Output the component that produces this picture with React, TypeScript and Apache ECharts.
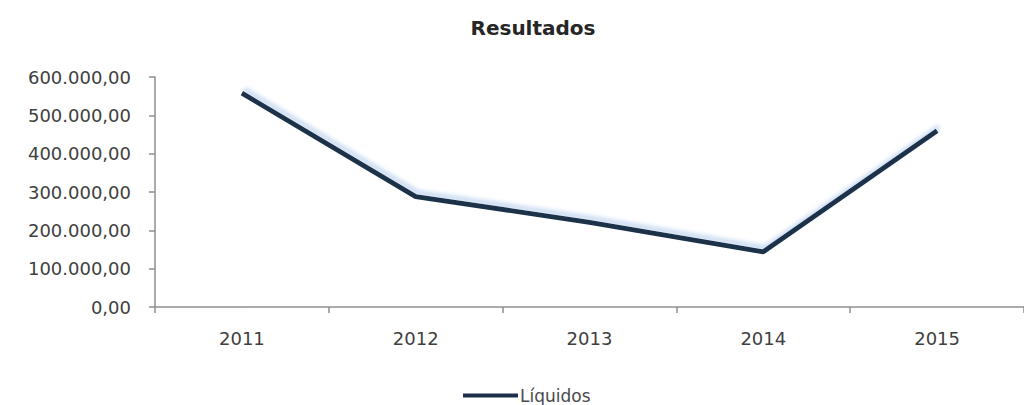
import React, { useEffect, useRef } from "react";
import * as echarts from "echarts";

// Years on the category axis
const years = ["2011", "2012", "2013", "2014", "2015"];
// Net results per year
const liquidos = [558000, 288000, 221000, 144000, 460000];
// Value axis range
const yMin = 0;
const yMax = 600000;
const yStep = 100000;

const seriesName = "Líquidos";
const chartTitle = "Resultados";

// pt-BR style number formatting: 600.000,00
function formatBR(v: number): string {
  const [intPart, dec] = v.toFixed(2).split(".");
  const withDots = intPart.replace(/\B(?=(\d{3})+(?!\d))/g, ".");
  return `${withDots},${dec}`;
}

const FONT = "DejaVu Sans";

export default function App() {
  const ref = useRef<HTMLDivElement>(null);

  useEffect(() => {
    if (!ref.current) return;
    const chart = echarts.init(ref.current, null, { renderer: "svg" });
    chart.setOption({
      animation: false,
      backgroundColor: "#ffffff",
      title: {
        text: chartTitle,
        left: 528,
        textAlign: "center",
        top: 13,
        textStyle: {
          fontFamily: FONT,
          fontSize: 20,
          fontWeight: "bold",
          color: "#262626",
        },
      },
      legend: {
        left: 458,
        top: 381,
        icon: "rect",
        itemWidth: 55,
        itemHeight: 4,
        itemGap: 4,
        data: [{ name: seriesName, icon: "rect" }],
        textStyle: {
          fontFamily: FONT,
          fontSize: 17,
          lineHeight: 19,
          color: "#4a4a4a",
          padding: [0, 0, 0, -3],
        },
      },
      grid: {
        left: 155,
        top: 77,
        width: 870,
        height: 230,
        containLabel: false,
      },
      xAxis: {
        type: "category",
        data: years,
        boundaryGap: true,
        axisLine: { lineStyle: { color: "#8f8f8f", width: 1.5 } },
        axisTick: {
          show: true,
          alignWithLabel: false,
          length: 6,
          lineStyle: { color: "#8f8f8f", width: 1.5 },
        },
        axisLabel: {
          fontFamily: FONT,
          fontSize: 18,
          color: "#404040",
          margin: 22,
        },
        splitLine: { show: false },
      },
      yAxis: {
        type: "value",
        min: yMin,
        max: yMax,
        interval: yStep,
        axisLine: { show: true, lineStyle: { color: "#8f8f8f", width: 1.5 } },
        axisTick: {
          show: true,
          length: 6,
          lineStyle: { color: "#8f8f8f", width: 1.5 },
        },
        axisLabel: {
          fontFamily: FONT,
          fontSize: 18,
          color: "#404040",
          margin: 24,
          formatter: (v: number) => formatBR(v),
        },
        splitLine: { show: false },
      },
      series: [
        {
          name: seriesName,
          type: "line",
          data: liquidos,
          symbol: "none",
          color: "#1c3049",
          lineStyle: {
            color: "#1c3049",
            width: 4.8,
            shadowColor: "rgba(150,185,230,0.55)",
            shadowBlur: 4,
            shadowOffsetX: 2,
            shadowOffsetY: -4,
          },
        },
      ],
    });
    return () => chart.dispose();
  }, []);

  return (
    <div
      ref={ref}
      style={{ position: "absolute", left: 0, top: 0, width: 1024, height: 405 }}
    />
  );
}
